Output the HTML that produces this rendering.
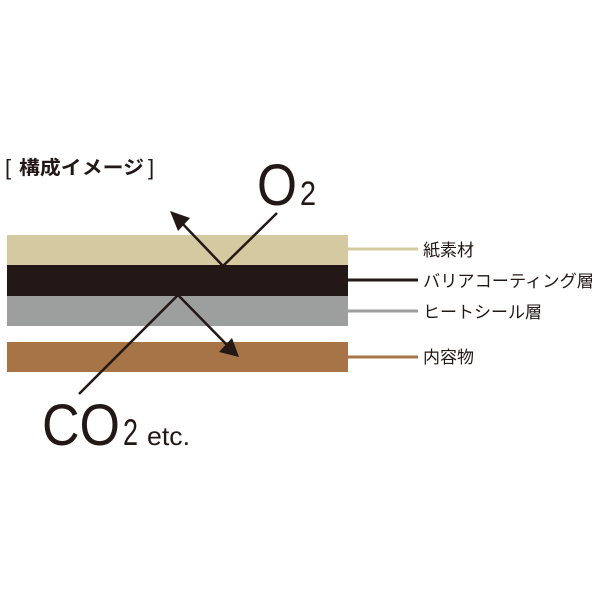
<!DOCTYPE html>
<html><head><meta charset="utf-8"><style>
body{margin:0;width:600px;height:600px;background:#fff;overflow:hidden}
</style></head><body>
<svg width="600" height="600" xmlns="http://www.w3.org/2000/svg" font-family="'Liberation Sans','Noto Sans CJK JP',sans-serif">
<text x="5" y="175" font-size="22" fill="#231815">[</text>
<text x="19" y="174" font-size="19" font-weight="bold" fill="#231815" textLength="125" lengthAdjust="spacingAndGlyphs">構成イメージ</text>
<text x="148" y="175" font-size="22" fill="#231815">]</text>
<rect x="7" y="235" width="341" height="30" fill="#d5c9a1"/>
<rect x="7" y="265" width="341" height="31" fill="#231815"/>
<rect x="7" y="296" width="341" height="30" fill="#9d9e9e"/>
<rect x="7" y="342" width="341" height="30" fill="#a77447"/>
<line x1="348" y1="249" x2="418" y2="249" stroke="#d5c9a1" stroke-width="3"/>
<line x1="348" y1="280" x2="418" y2="280" stroke="#231815" stroke-width="3"/>
<line x1="348" y1="311" x2="418" y2="311" stroke="#9d9e9e" stroke-width="3"/>
<line x1="348" y1="357" x2="418" y2="357" stroke="#a77447" stroke-width="3"/>
<g font-size="17" fill="#231815">
<text x="423" y="256">紙素材</text>
<text x="423" y="287" textLength="171" lengthAdjust="spacingAndGlyphs">バリアコーティング層</text>
<text x="423" y="318">ヒートシール層</text>
<text x="423" y="363">内容物</text>
</g>
<g stroke="#231815" stroke-width="2.5" fill="none">
<line x1="277" y1="213" x2="223" y2="266"/>
<line x1="223" y1="266" x2="180" y2="221"/>
<line x1="79" y1="394" x2="178" y2="295"/>
<line x1="178" y1="295" x2="229" y2="347"/>
</g>
<polygon points="170,211 190,218 178,231" fill="#231815"/>
<polygon points="239,357 219,352 232,338" fill="#231815"/>
<text x="257" y="205" font-size="58" fill="#231815" textLength="40" lengthAdjust="spacingAndGlyphs">O</text>
<text x="300" y="205" font-size="34" fill="#231815" textLength="16" lengthAdjust="spacingAndGlyphs">2</text>
<text x="42" y="445" font-size="58" fill="#231815" textLength="78" lengthAdjust="spacingAndGlyphs">CO</text>
<text x="123" y="445" font-size="37" fill="#231815" textLength="15" lengthAdjust="spacingAndGlyphs">2</text>
<text x="147" y="445" font-size="26" fill="#231815" textLength="43" lengthAdjust="spacingAndGlyphs">etc.</text>
</svg>
</body></html>
